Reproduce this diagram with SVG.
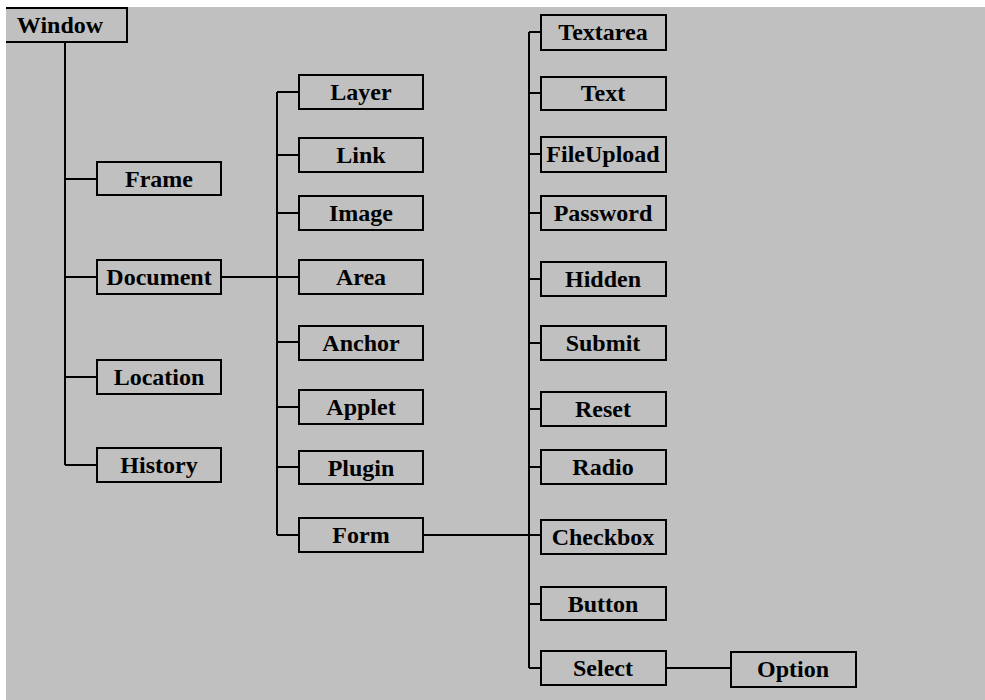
<svg xmlns="http://www.w3.org/2000/svg" width="985" height="700" viewBox="0 0 985 700">
<style>
.bg{fill:#c0c0c0}
.box{fill:none;stroke:#000;stroke-width:2}
.lbl{font-family:"Liberation Serif","Times New Roman",serif;font-weight:bold;font-size:24px;fill:#000;text-anchor:middle}
.con{fill:none;stroke:#000;stroke-width:2}
</style>
<rect x="0" y="0" width="985" height="700" fill="#fff"/>
<rect class="bg" x="6" y="7" width="979" height="693"/>
<g id="connectors">
<path class="con" d="M65 42V465M65 179H97M65 277H97M65 377H97M65 465H97"/>
<path class="con" d="M221 277H299M277 92V535M277 92H299M277 155H299M277 213H299M277 342H299M277 407H299M277 467H299M277 535H299"/>
<path class="con" d="M423 535H541M529 32V668M529 32H541M529 93H541M529 154H541M529 213H541M529 279H541M529 343H541M529 409H541M529 467H541M529 604H541M529 668H541M666 668H731"/>
</g>
<g id="window"><path class="box" d="M6 8H127V42H6"/><text class="lbl" x="60" y="33">Window</text></g>
<g id="frame"><rect class="box" x="97" y="162" width="124" height="33"/><text class="lbl" x="159" y="187">Frame</text></g>
<g id="document"><rect class="box" x="97" y="260" width="124" height="34"/><text class="lbl" x="159" y="285">Document</text></g>
<g id="location"><rect class="box" x="97" y="360" width="124" height="34"/><text class="lbl" x="159" y="385">Location</text></g>
<g id="history"><rect class="box" x="97" y="448" width="124" height="34"/><text class="lbl" x="159" y="473">History</text></g>
<g id="layer"><rect class="box" x="299" y="75" width="124" height="34"/><text class="lbl" x="361" y="100">Layer</text></g>
<g id="link"><rect class="box" x="299" y="138" width="124" height="34"/><text class="lbl" x="361" y="163">Link</text></g>
<g id="image"><rect class="box" x="299" y="196" width="124" height="34"/><text class="lbl" x="361" y="221">Image</text></g>
<g id="area"><rect class="box" x="299" y="260" width="124" height="34"/><text class="lbl" x="361" y="285">Area</text></g>
<g id="anchor"><rect class="box" x="299" y="326" width="124" height="34"/><text class="lbl" x="361" y="351">Anchor</text></g>
<g id="applet"><rect class="box" x="299" y="390" width="124" height="34"/><text class="lbl" x="361" y="415">Applet</text></g>
<g id="plugin"><rect class="box" x="299" y="451" width="124" height="33"/><text class="lbl" x="361" y="476">Plugin</text></g>
<g id="form"><rect class="box" x="299" y="518" width="124" height="34"/><text class="lbl" x="361" y="543">Form</text></g>
<g id="textarea"><rect class="box" x="541" y="15" width="125" height="35"/><text class="lbl" x="603" y="40">Textarea</text></g>
<g id="text"><rect class="box" x="541" y="77" width="125" height="33"/><text class="lbl" x="603" y="101">Text</text></g>
<g id="fileupload"><rect class="box" x="541" y="137" width="125" height="35"/><text class="lbl" x="603" y="162">FileUpload</text></g>
<g id="password"><rect class="box" x="541" y="196" width="125" height="34"/><text class="lbl" x="603" y="221">Password</text></g>
<g id="hidden"><rect class="box" x="541" y="262" width="125" height="34"/><text class="lbl" x="603" y="287">Hidden</text></g>
<g id="submit"><rect class="box" x="541" y="326" width="125" height="34"/><text class="lbl" x="603" y="351">Submit</text></g>
<g id="reset"><rect class="box" x="541" y="392" width="125" height="34"/><text class="lbl" x="603" y="417">Reset</text></g>
<g id="radio"><rect class="box" x="541" y="450" width="125" height="34"/><text class="lbl" x="603" y="475">Radio</text></g>
<g id="checkbox"><rect class="box" x="541" y="520" width="125" height="34"/><text class="lbl" x="603" y="545">Checkbox</text></g>
<g id="button"><rect class="box" x="541" y="587" width="125" height="33"/><text class="lbl" x="603" y="612">Button</text></g>
<g id="select"><rect class="box" x="541" y="651" width="125" height="34"/><text class="lbl" x="603" y="676">Select</text></g>
<g id="option"><rect class="box" x="731" y="652" width="125" height="35"/><text class="lbl" x="793" y="677">Option</text></g>
</svg>
